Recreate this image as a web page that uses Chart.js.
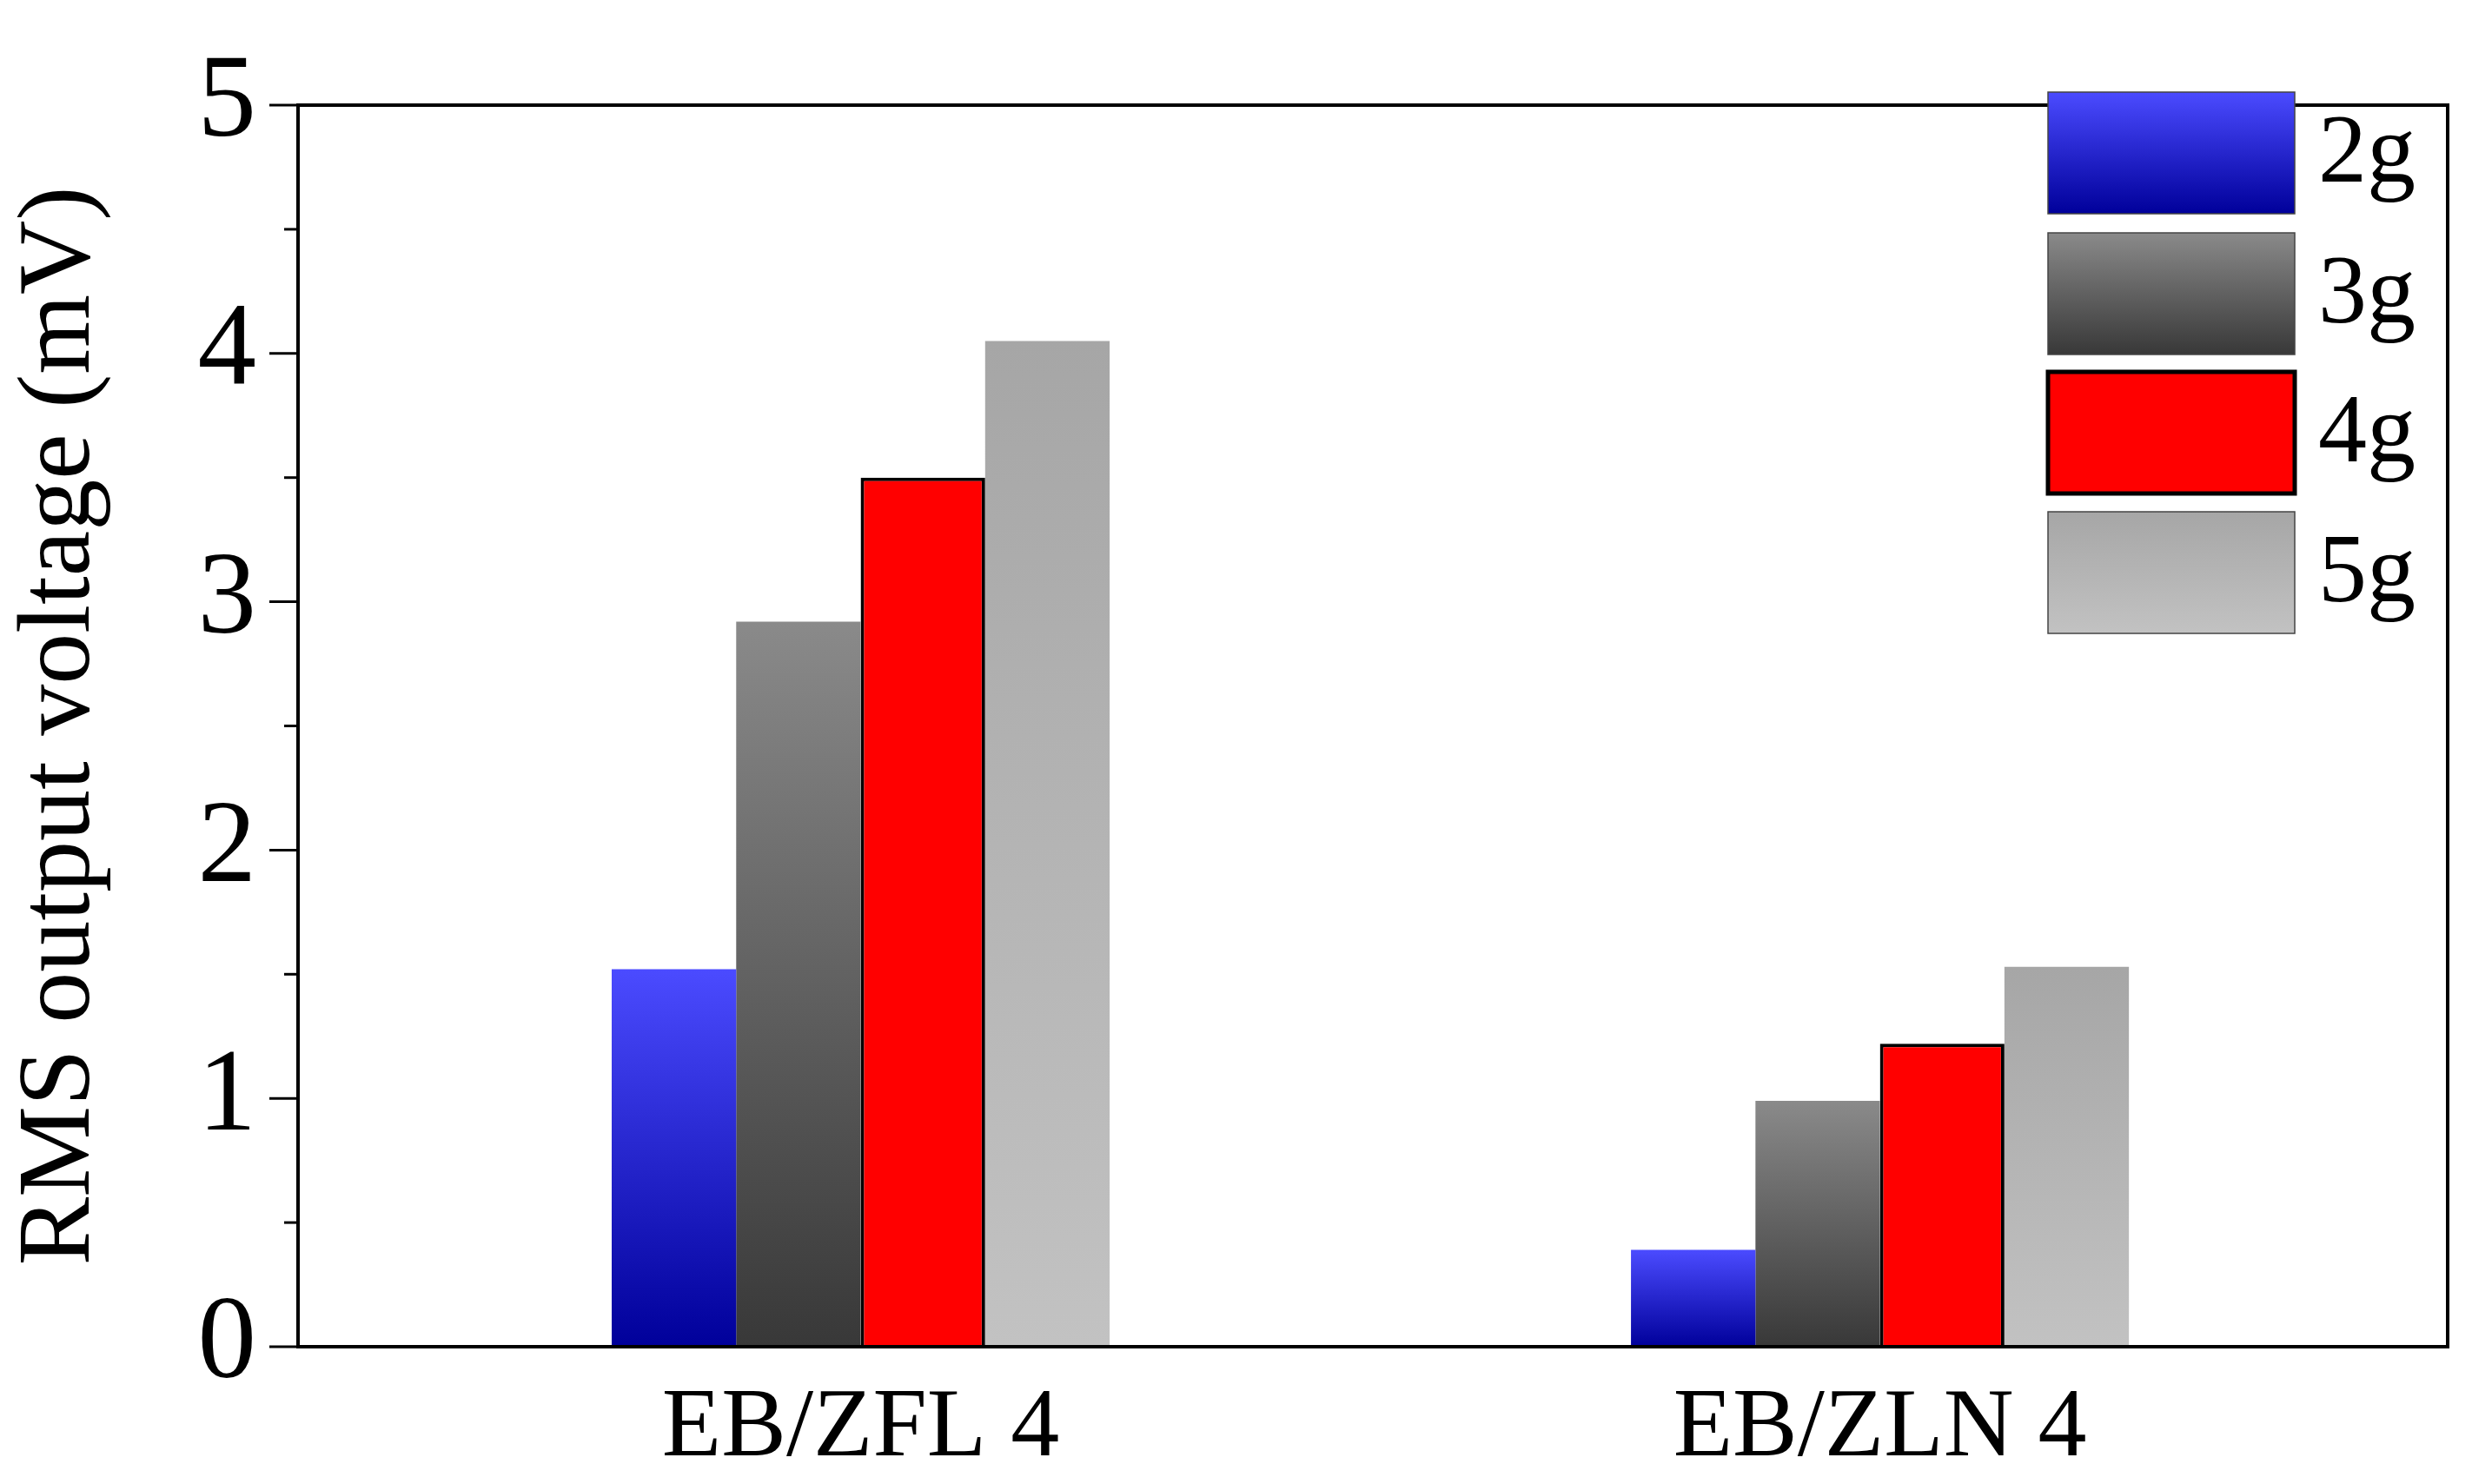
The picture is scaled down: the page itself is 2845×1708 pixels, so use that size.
<!DOCTYPE html>
<html>
<head>
<meta charset="utf-8">
<script src="https://cdn.jsdelivr.net/npm/chart.js@4.4.0/dist/chart.umd.min.js"></script>
<style>
  html, body { margin: 0; padding: 0; background: #fff; }
  #wrap { width: 2845px; height: 1708px; }
</style>
</head>
<body>
<div id="wrap"><canvas id="grafico"></canvas></div>
<script>
var categorias = ['EB/ZFL 4', 'EB/ZLN 4'];
var series = ['2g', '3g', '4g', '5g'];
var valores2g = [1.52, 0.39];
var valores3g = [2.92, 0.99];
var valores4g = [3.50, 1.22];
var valores5g = [4.05, 1.53];
var ticksY = [0, 1, 2, 3, 4, 5];

// colores del degradado: [arriba, abajo]
var degradados = [
    ['#4b4bff', '#00009a'],
    ['#8a8a8a', '#383838'],
    ['#ff0000', '#ff0000'],
    ['#a6a6a6', '#c2c2c2']
];
var bordes = ['rgba(0,0,0,0)', 'rgba(0,0,0,0)', '#000', 'rgba(0,0,0,0)'];
var fuente = "'Liberation Serif', 'DejaVu Serif', serif";

function degradado(ctx, y0, y1, col) {
    var g = ctx.createLinearGradient(0, y0, 0, y1);
    g.addColorStop(0, col[0]);
    g.addColorStop(1, col[1]);
    return g;
}

function colorBarra(i) {
    return function(context) {
        var chart = context.chart;
        var y = chart.scales.y;
        if (!chart.chartArea || !y || !context.parsed) return degradados[i][0];
        var top = y.getPixelForValue(context.parsed.y);
        var base = y.getPixelForValue(0);
        if (!isFinite(top) || !isFinite(base) || top === base) return degradados[i][0];
        return degradado(chart.ctx, top, base, degradados[i]);
    };
}

var datos = [valores2g, valores3g, valores4g, valores5g];

// marco, ticks y leyenda
var marco = {
    id: 'marco',
    afterDraw: function(chart) {
        var c = chart.ctx, a = chart.chartArea;
        c.save();
        c.strokeStyle = '#000';
        c.lineWidth = 4;
        c.strokeRect(a.left, a.top, a.right - a.left, a.bottom - a.top);
        var y = chart.scales.y;
        c.lineWidth = 3;
        for (var v = 0; v <= 5; v += 0.5) {
            var py = y.getPixelForValue(v);
            var len = (v % 1 === 0) ? 33 : 16;
            c.beginPath(); c.moveTo(a.left - len, py); c.lineTo(a.left, py); c.stroke();
        }
        var tops = [106, 268, 428, 589];
        for (var i = 0; i < series.length; i++) {
            var x0 = 2357, w = 284, h = 140, t = tops[i];
            c.fillStyle = degradado(c, t, t + h, degradados[i]);
            c.fillRect(x0, t, w, h);
            c.lineWidth = i == 2 ? 5 : 1.5;
            c.strokeStyle = i == 2 ? '#000' : '#444';
            c.strokeRect(x0, t, w, h);
            c.fillStyle = '#000';
            c.font = '112px ' + fuente;
            c.textBaseline = 'middle';
            c.fillText(series[i], 2668, t + h / 2 + 4);
        }
        c.restore();
    }
};

var ctx = document.getElementById('grafico').getContext('2d');
var grafico = new Chart(ctx, {
    type: 'bar',
    data: {
        datasets: series.map(function(s, i) {
            return {
                label: s,
                data: datos[i].map(function(v, k) { return { x: k, y: v }; }),
                backgroundColor: colorBarra(i),
                borderColor: bordes[i],
                borderWidth: i == 2 ? 4 : 0,
                borderSkipped: 'bottom',
                barPercentage: 1.0,
                categoryPercentage: 0.885
            };
        })
    },
    options: {
        responsive: true,
        maintainAspectRatio: false,
        animation: false,
        devicePixelRatio: 1,
        layout: { padding: { top: 78, right: 22, left: 0, bottom: 0 } },
        plugins: {
            legend: { display: false },
            tooltip: { enabled: false }
        },
        scales: {
            x: {
                type: 'linear',
                min: -0.552,
                max: 1.557,
                offset: false,
                grid: { display: false, drawTicks: false },
                border: { display: false },
                ticks: {
                    stepSize: 1,
                    color: '#000',
                    font: { family: fuente, size: 112 },
                    padding: 28,
                    callback: function(v) { return (v === 0 || v === 1) ? categorias[v] : ''; }
                },
                afterFit: function(s) { s.height = 158; }
            },
            y: {
                min: 0,
                max: 5,
                grid: { display: false },
                border: { display: false },
                ticks: {
                    stepSize: 1,
                    color: '#000',
                    padding: 40,
                    font: { family: fuente, size: 135 },
                    callback: function(v) { return ticksY.indexOf(v) >= 0 ? v : ''; }
                },
                title: {
                    display: true,
                    text: 'RMS output voltage (mV)',
                    color: '#000',
                    font: { family: fuente, size: 118 },
                    padding: { top: 0, bottom: 10 }
                },
                afterFit: function(s) { s.width = 343; }
            }
        }
    },
    plugins: [marco]
});
</script>
</body>
</html>
